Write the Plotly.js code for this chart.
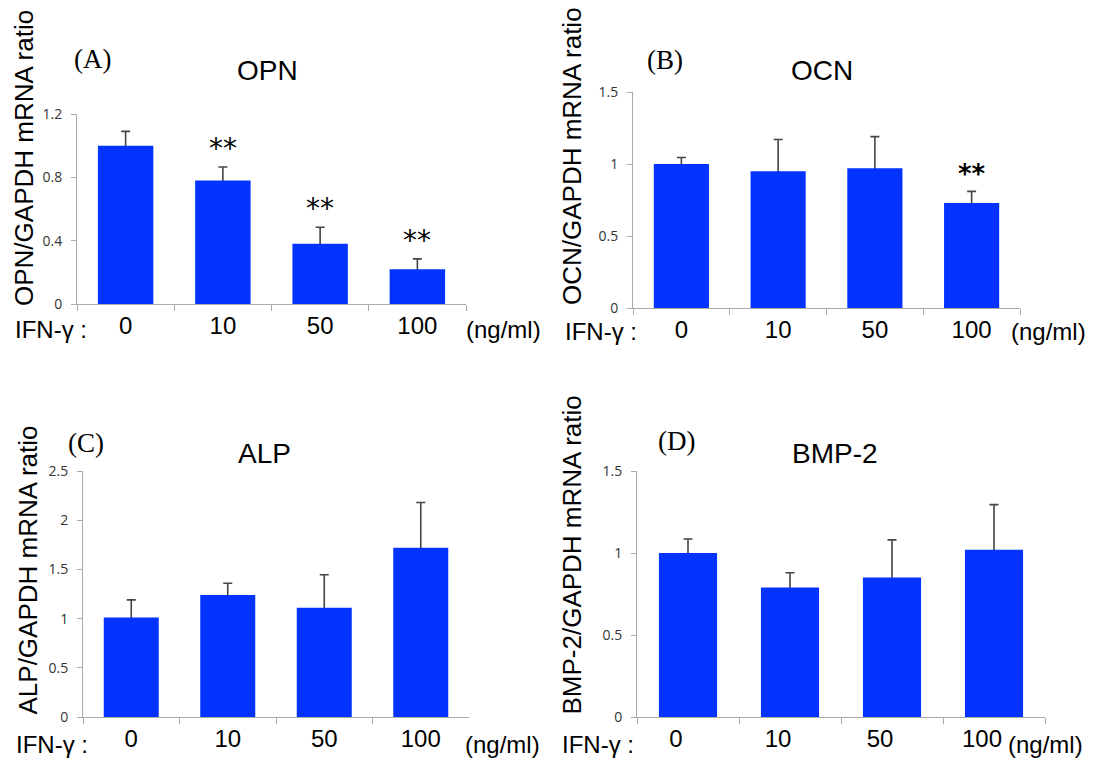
<!DOCTYPE html>
<html>
<head>
<meta charset="utf-8">
<script src="https://cdn.plot.ly/plotly-3.0.1.min.js"></script>
<style>html,body{margin:0;padding:0;background:#fff;}#chart{width:1097px;height:763px;}</style>
</head>
<body>
<div id="chart"></div>
<script>
// ---- data ----
const categories = ["0", "10", "50", "100"];
const opn = [1.0, 0.78, 0.38, 0.22];
const opnErr = [0.09, 0.085, 0.105, 0.065];
const opnSig = ["", "**", "**", "**"];
const ocn = [1.0, 0.95, 0.97, 0.73];
const ocnErr = [0.045, 0.22, 0.22, 0.08];
const ocnSig = ["", "", "", "**"];
const alp = [1.01, 1.24, 1.11, 1.72];
const alpErr = [0.18, 0.12, 0.335, 0.46];
const bmp2 = [1.0, 0.79, 0.85, 1.02];
const bmp2Err = [0.085, 0.09, 0.23, 0.275];
const panels = [
  {label: "(A)", gene: "OPN", ytitle: "OPN/GAPDH mRNA ratio", vals: opn, err: opnErr, sig: opnSig, ymax: 1.2, dtick: 0.4},
  {label: "(B)", gene: "OCN", ytitle: "OCN/GAPDH mRNA ratio", vals: ocn, err: ocnErr, sig: ocnSig, ymax: 1.5, dtick: 0.5},
  {label: "(C)", gene: "ALP", ytitle: "ALP/GAPDH mRNA ratio", vals: alp, err: alpErr, sig: null, ymax: 2.5, dtick: 0.5},
  {label: "(D)", gene: "BMP-2", ytitle: "BMP-2/GAPDH mRNA ratio", vals: bmp2, err: bmp2Err, sig: null, ymax: 1.5, dtick: 0.5}
];

// ---- layout geometry (pixels) ----
const W = 1097, H = 763;
const px = v => v / W;
const py = v => 1 - v / H;
const SANS = "Liberation Sans, Arial, sans-serif";
const geom = [
  {x0: 77, x1: 466, y0: 114, y1: 304, ytx: 24, ytBottom: 308, lab: [92, 59], ttl: [267, 70], ifn: [13, 329], ng: [464, 329], shift: 0,
   starFont: {family: "DejaVu Sans", size: 28, color: "#000"}},
  {x0: 633, x1: 1020, y0: 92, y1: 308, ytx: 572, ytBottom: 307, lab: [665, 60], ttl: [822, 70], ifn: [563, 332], ng: [1009, 332], shift: 0,
   starFont: {family: "DejaVu Sans", size: 26, color: "#000", weight: 700}},
  {x0: 83, x1: 469, y0: 471, y1: 717, ytx: 27, ytBottom: 717, lab: [86, 443], ttl: [264, 454], ifn: [14, 744], ng: [463, 744], shift: 0},
  {x0: 637, x1: 1045, y0: 471, y1: 717, ytx: 571, ytBottom: 717, lab: [676, 441], ttl: [835, 454], ifn: [560, 744], ng: [1006, 744], shift: -12}
];

const data = [];
const annotations = [];
const layout = {
  width: W, height: H,
  margin: {l: 0, r: 0, t: 0, b: 0},
  paper_bgcolor: "#fff", plot_bgcolor: "#fff",
  showlegend: false, barmode: "overlay",
  font: {family: SANS, color: "#000"},
  annotations: annotations
};

panels.forEach((p, i) => {
  const g = geom[i];
  const sfx = i === 0 ? "" : String(i + 1);
  const xa = "x" + sfx, ya = "y" + sfx;
  // error bars (carried by a transparent bar trace so the blue bars hide the lower half)
  data.push({
    type: "bar", x: categories, y: p.vals, xaxis: xa, yaxis: ya,
    width: 0.57, marker: {color: "rgba(0,0,0,0)"},
    error_y: {type: "data", symmetric: true, array: p.err, color: "#444", thickness: 1.6, width: 4.5},
    hoverinfo: "skip"
  });
  data.push({
    type: "bar", x: categories, y: p.vals, xaxis: xa, yaxis: ya,
    width: 0.57, marker: {color: "#0433FF"},
    hoverinfo: "x+y"
  });
  layout["xaxis" + sfx] = {
    domain: [px(g.x0), px(g.x1)], anchor: ya,
    type: "category", range: [-0.5, 3.5],
    showline: true, linecolor: "#aaa", linewidth: 1,
    ticks: "outside", tickson: "boundaries", ticklen: 6, tickcolor: "#aaa", tickwidth: 1,
    ticklabelshift: g.shift,
    tickfont: {family: SANS, size: 24, color: "#000"},
    showgrid: false, zeroline: false, fixedrange: true
  };
  layout["yaxis" + sfx] = {
    domain: [py(g.y1), py(g.y0)], anchor: xa,
    range: [0, p.ymax], dtick: p.dtick, tick0: 0,
    showline: true, linecolor: "#aaa", linewidth: 1,
    ticks: "outside", ticklen: 5, tickcolor: "#aaa", tickwidth: 1,
    ticklabelstandoff: 6,
    tickfont: {family: "Open Sans, sans-serif", size: 14, color: "#333"},
    showgrid: false, zeroline: false, fixedrange: true
  };
  // y-axis title
  annotations.push({xref: "paper", yref: "paper", x: px(g.ytx), y: py(g.ytBottom),
    text: p.ytitle, textangle: -90, showarrow: false, xanchor: "center", yanchor: "bottom",
    font: {family: SANS, size: 26, color: "#000"}});
  // panel label
  annotations.push({xref: "paper", yref: "paper", x: px(g.lab[0]), y: py(g.lab[1]),
    text: p.label, showarrow: false, xanchor: "center", yanchor: "middle",
    font: {family: "Liberation Serif, Times New Roman, serif", size: 27, color: "#000"}});
  // gene title
  annotations.push({xref: "paper", yref: "paper", x: px(g.ttl[0]), y: py(g.ttl[1]),
    text: p.gene, showarrow: false, xanchor: "center", yanchor: "middle",
    font: {family: SANS, size: 28, color: "#000"}});
  // IFN-γ and units
  annotations.push({xref: "paper", yref: "paper", x: px(g.ifn[0]), y: py(g.ifn[1]),
    text: "IFN-γ :", showarrow: false, xanchor: "left", yanchor: "middle",
    font: {family: SANS, size: 24, color: "#000"}});
  annotations.push({xref: "paper", yref: "paper", x: px(g.ng[0]), y: py(g.ng[1]),
    text: "(ng/ml)", showarrow: false, xanchor: "left", yanchor: "middle",
    font: {family: SANS, size: 24, color: "#000"}});
  // significance stars
  if (p.sig) {
    p.sig.forEach((s, k) => {
      if (!s) return;
      annotations.push({xref: xa, yref: ya, x: k, y: p.vals[k] + p.err[k],
        text: s, showarrow: false, xanchor: "center", yanchor: "bottom", yshift: 0,
        font: g.starFont});
    });
  }
});

Plotly.newPlot("chart", data, layout, {displayModeBar: false, staticPlot: true});
</script>
</body>
</html>
